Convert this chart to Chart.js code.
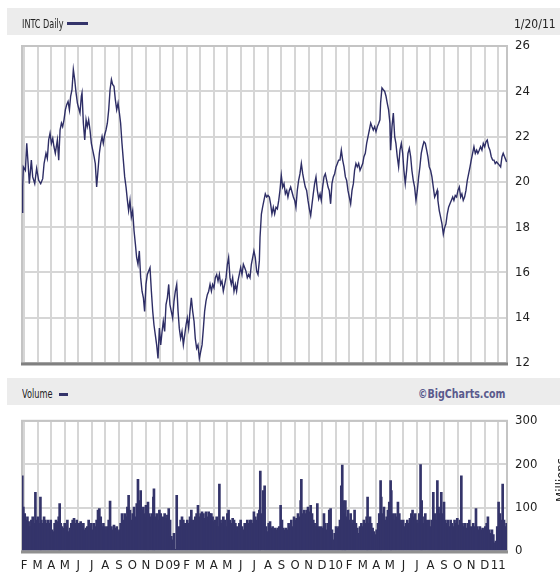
<!DOCTYPE html>
<html><head><meta charset="utf-8">
<script src="https://cdn.jsdelivr.net/npm/chart.js@4.4.1/dist/chart.umd.min.js"></script>
<style>
html,body{margin:0;padding:0;background:#fff;width:560px;height:572px;overflow:hidden;}
body{position:relative;font-family:"DejaVu Sans Condensed","DejaVu Sans",sans-serif;font-stretch:condensed;color:#222;}
.band{position:absolute;left:7px;width:553px;height:27px;background:#ececec;z-index:0;}
.txt{position:absolute;font-size:12px;line-height:15px;white-space:nowrap;z-index:2;transform-origin:0 50%;}
.sw{position:absolute;height:3px;background:#34346a;z-index:2;}
canvas{position:absolute;left:0;z-index:1;}
#millions{position:absolute;left:531px;top:473px;width:60px;height:14px;line-height:14px;font-size:13px;text-align:center;transform:rotate(-90deg);transform-origin:30px 7px;z-index:2;}
</style></head><body>
<div class="band" style="top:8px"></div>
<div class="txt" style="left:22px;top:17px;transform:scaleX(0.75)">INTC Daily</div>
<div class="sw" style="left:67px;top:22px;width:21px"></div>
<div class="txt" style="left:514px;top:17px">1/20/11</div>
<div class="band" style="top:378px"></div>
<div class="txt" style="left:22px;top:387px;transform:scaleX(0.76)">Volume</div>
<div class="sw" style="left:59px;top:393px;width:9px"></div>
<div class="txt" style="left:418px;top:387px;font-weight:bold;color:#5a5a8c;transform:scaleX(0.88)">©BigCharts.com</div>
<div id="millions">Millions</div>
<canvas id="pc" width="560" height="380" style="top:0"></canvas>
<canvas id="vc" width="560" height="167" style="top:405px"></canvas>
<script>
// x values: months since Jan 1 2008 (1 = Feb 2008, 12 = Jan 2009, 36 = Jan 2011)
const xTickLabels = ['F','M','A','M','J','J','A','S','O','N','D','09','F','M','A','M','J','J','A','S','O','N','D','10','F','M','A','M','J','J','A','S','O','N','D','11'];
const priceMonths = [0.85,0.90,0.95,1.10,1.20,1.30,1.39,1.54,1.64,1.79,1.93,2.08,2.23,2.38,2.48,2.62,2.72,2.82,2.92,3.02,3.12,3.21,3.31,3.46,3.56,3.66,3.76,3.85,3.95,4.05,4.15,4.25,4.35,4.44,4.54,4.64,4.74,4.84,4.94,5.03,5.13,5.23,5.28,5.38,5.48,5.58,5.67,5.77,5.87,5.97,6.07,6.17,6.26,6.36,6.46,6.56,6.66,6.76,6.85,6.95,7.05,7.15,7.25,7.35,7.45,7.54,7.64,7.74,7.84,7.94,8.04,8.13,8.23,8.33,8.43,8.53,8.63,8.72,8.82,8.92,9.02,9.12,9.22,9.31,
9.41,9.51,9.61,9.71,9.81,9.90,10.00,10.10,10.20,10.30,10.40,10.50,10.59,10.69,10.79,10.89,10.99,11.09,11.19,11.28,11.38,11.48,11.58,11.68,11.77,11.87,11.97,12.07,12.17,12.27,12.37,12.46,12.56,12.66,12.76,12.86,12.96,13.05,13.15,13.25,13.35,13.45,13.55,13.64,13.74,13.84,13.94,14.04,14.14,14.24,14.33,14.43,14.53,14.63,14.73,14.83,14.92,15.02,15.12,15.22,15.32,15.42,15.51,15.61,15.71,15.81,15.91,16.01,16.10,16.20,16.30,16.40,16.50,16.60,16.69,16.79,16.89,16.99,17.09,17.19,17.29,17.38,17.48,17.58,17.68,17.78,17.88,17.97,18.07,18.17,18.27,18.37,
18.42,18.52,18.61,18.71,18.81,18.91,19.01,19.11,19.20,19.30,19.40,19.50,19.60,19.70,19.80,19.89,19.99,20.09,20.19,20.29,20.39,20.48,20.58,20.68,20.78,20.88,20.98,21.07,21.17,21.27,21.37,21.47,21.57,21.66,21.76,21.86,21.96,22.06,22.16,22.26,22.35,22.45,22.55,22.65,22.75,22.85,22.94,23.04,23.14,23.24,23.34,23.44,23.53,23.63,23.73,23.83,23.93,24.03,24.13,24.22,24.32,24.42,24.52,24.62,24.72,24.81,24.91,25.01,25.11,25.21,25.31,25.40,25.50,25.60,25.70,25.80,25.90,26.00,26.09,26.19,26.29,26.39,26.49,26.59,26.68,26.78,26.88,26.98,27.08,27.18,27.27,
27.32,27.42,27.52,27.62,27.72,27.81,27.91,28.01,28.06,28.16,28.26,28.36,28.45,28.55,28.65,28.75,28.85,28.95,29.04,29.14,29.24,29.34,29.44,29.54,29.63,29.73,29.83,29.93,30.03,30.13,30.22,30.32,30.42,30.52,30.62,30.72,30.81,30.91,31.01,31.11,31.21,31.31,31.41,31.50,31.55,31.65,31.75,31.85,31.95,32.05,32.14,32.24,32.34,32.44,32.54,32.64,32.73,32.83,32.93,33.03,33.13,33.23,33.32,33.42,33.52,33.62,33.72,33.82,33.92,34.01,34.11,34.21,34.31,34.41,34.50,34.60,34.70,34.80,34.90,35.00,35.10,35.19,35.29,35.39,35.49,35.59,35.69,35.78,35.88,35.98,36.08,36.18,36.28,36.37,36.47,36.57,36.62];
const priceValues = [18.66,19.77,20.66,20.51,21.70,20.81,19.92,20.96,20.22,19.92,20.59,20.07,19.92,20.14,20.81,21.26,21.03,21.85,22.15,21.70,21.92,21.55,21.26,21.85,20.96,22.29,22.59,22.44,22.74,23.18,23.41,23.55,23.18,23.78,24.07,24.96,24.52,23.93,23.48,23.26,23.04,23.78,23.93,22.59,21.85,22.74,22.44,22.74,22.29,21.70,21.40,21.11,20.81,19.77,20.51,21.26,21.70,22.00,21.70,22.07,22.29,22.59,23.18,24.07,24.52,24.30,24.22,23.63,23.18,23.48,23.04,22.59,21.70,20.96,20.22,19.77,19.18,18.73,19.18,18.44,18.73,17.84,17.25,16.66,
16.36,16.95,15.77,15.17,14.88,14.28,15.47,15.91,16.06,16.21,15.17,14.28,13.69,13.24,12.80,12.20,13.54,12.80,13.39,13.84,13.39,14.58,14.88,15.47,14.58,14.28,13.99,14.73,15.17,15.47,14.28,13.54,13.09,13.39,12.80,13.24,13.69,13.99,13.54,14.28,14.88,14.28,13.84,13.09,12.65,12.80,12.20,12.50,12.80,13.54,14.28,14.73,15.02,15.17,15.47,15.17,15.47,15.32,15.77,15.91,15.62,15.91,15.47,15.62,15.17,15.47,15.77,16.36,16.66,15.77,15.47,15.77,15.17,15.47,15.17,15.62,15.91,16.21,15.91,16.36,16.21,16.06,15.77,15.91,15.77,16.36,16.66,16.95,16.66,16.06,15.91,16.51,
17.55,18.58,18.88,19.18,19.47,19.33,19.40,19.33,19.03,18.58,18.88,18.58,18.88,18.81,19.18,19.62,20.29,19.77,19.92,19.47,19.62,19.33,19.62,19.77,19.55,19.33,19.18,18.88,19.62,20.07,20.36,20.81,20.36,20.07,19.77,19.62,19.18,18.81,18.51,19.03,19.47,19.92,20.22,19.62,19.25,19.47,19.18,19.77,20.22,20.36,20.07,19.77,19.62,19.03,19.92,20.22,20.36,20.66,20.81,20.96,20.96,21.40,20.96,20.66,20.22,20.07,19.62,19.33,19.03,19.62,19.92,20.51,20.81,20.66,20.81,20.51,20.66,20.81,21.11,21.26,21.70,22.00,22.29,22.59,22.44,22.29,22.44,22.22,22.44,22.59,22.74,
23.48,24.15,24.07,24.00,23.78,23.48,23.18,22.59,21.40,22.44,23.04,22.00,21.70,21.11,20.66,21.40,21.70,21.26,20.51,19.92,20.51,21.26,21.48,21.11,20.51,20.07,19.77,19.18,19.62,20.22,20.66,21.26,21.55,21.77,21.70,21.40,21.11,20.66,20.51,20.22,19.77,19.33,19.47,19.62,19.18,18.73,18.44,18.14,17.69,17.99,18.14,18.58,18.88,19.03,19.18,19.33,19.18,19.40,19.33,19.62,19.77,19.33,19.47,19.18,19.33,19.62,20.07,20.36,20.66,20.96,21.26,21.55,21.26,21.40,21.26,21.40,21.55,21.40,21.70,21.55,21.77,21.85,21.55,21.40,21.11,20.96,20.96,20.81,20.88,20.81,20.74,20.66,21.11,21.26,21.11,20.96,20.88];
const volumeMonths = [0.87,0.95,1.05,1.15,1.25,1.34,1.44,1.54,1.64,1.74,1.84,1.94,2.03,2.13,2.21,2.28,2.38,2.48,2.57,2.67,2.77,2.87,2.97,3.07,3.17,3.26,3.36,3.46,3.56,3.63,3.71,3.80,3.90,4.00,4.10,4.20,4.30,4.40,4.49,4.59,4.69,4.79,4.89,4.99,5.08,5.18,5.28,5.38,5.48,5.58,5.67,5.77,5.87,5.97,6.07,6.17,6.26,6.36,6.46,6.56,6.66,6.76,6.86,6.95,7.05,7.15,7.25,7.35,7.45,7.54,7.64,7.74,7.84,7.94,8.04,8.13,8.23,8.33,8.43,8.53,8.63,8.72,8.82,8.92,9.02,9.12,9.22,9.32,9.41,9.51,9.61,9.71,9.81,9.91,10.00,10.10,10.15,10.25,10.35,10.45,10.55,10.59,10.69,10.79,10.89,10.99,11.09,11.18,11.28,11.38,11.48,11.58,11.68,11.78,11.87,11.97,12.07,12.17,12.27,12.37,12.46,12.56,12.66,12.76,12.86,12.96,13.05,13.15,13.25,13.35,13.45,13.55,13.64,13.74,13.84,13.94,14.04,14.14,14.24,14.33,14.43,14.53,14.63,14.73,14.83,14.92,15.02,15.12,15.22,15.32,15.42,15.51,15.61,15.71,15.81,15.91,16.01,16.10,16.20,16.30,16.40,16.50,16.60,16.70,16.79,16.89,16.99,17.09,17.19,17.29,17.38,17.48,17.58,17.68,17.78,17.88,17.97,18.07,18.17,18.27,18.37,18.44,18.52,18.66,18.76,18.86,18.96,19.06,19.16,19.25,19.35,19.45,19.55,19.65,19.75,19.84,19.94,20.04,20.14,20.24,20.34,20.44,20.53,20.63,20.73,20.83,20.93,21.03,21.12,21.22,21.32,21.42,21.47,21.57,21.67,21.76,21.86,21.96,22.06,22.16,22.26,22.35,22.45,22.55,22.65,22.75,22.85,22.94,23.04,23.14,23.24,23.34,23.44,23.53,23.63,23.73,23.83,23.93,24.03,24.13,24.22,24.32,24.42,24.49,24.57,24.67,24.72,24.81,24.91,25.01,25.11,25.21,25.31,25.40,25.50,25.60,25.70,25.80,25.90,25.99,26.09,26.19,26.29,26.36,26.44,26.54,26.63,26.73,26.83,26.93,27.03,27.13,27.22,27.32,27.37,27.47,27.57,27.67,27.77,27.86,27.96,28.06,28.11,28.21,28.31,28.41,28.50,28.60,28.70,28.80,28.90,28.99,29.09,29.19,29.29,29.39,29.49,29.59,29.68,29.78,29.88,29.98,30.08,30.18,30.27,30.35,30.42,30.52,30.62,30.72,30.82,30.91,31.01,31.11,31.21,31.31,31.41,31.51,31.60,31.70,31.80,31.90,32.00,32.10,32.19,32.29,32.39,32.49,32.59,32.69,32.78,32.88,32.98,33.08,33.18,33.28,33.37,33.47,33.57,33.67,33.77,33.87,33.97,34.06,34.16,34.26,34.36,34.46,34.56,34.65,34.75,34.85,34.95,35.05,35.15,35.24,35.34,35.44,35.54,35.64,35.74,35.83,35.93,36.03,36.13,36.23,36.33,36.43,36.52,36.62];
const volumeValues = [173,101,86,71,79,68,56,71,79,64,135,71,79,64,124,71,64,79,71,64,71,64,71,49,45,64,71,68,79,109,64,56,53,64,56,71,45,53,64,71,75,64,71,53,64,68,56,64,49,53,56,71,56,64,49,64,56,71,94,98,79,56,64,56,49,56,71,115,56,49,60,53,56,45,49,64,86,71,86,79,101,128,94,71,86,101,79,109,165,116,139,94,101,86,105,79,113,86,79,86,124,143,79,86,71,94,86,71,79,86,75,83,98,71,34,26,41,4,128,49,56,71,79,71,64,56,71,64,79,94,71,64,79,86,105,79,86,90,86,75,90,79,90,86,86,79,68,71,79,56,154,71,64,79,71,56,86,94,71,64,75,71,64,56,45,64,71,56,49,64,56,71,64,71,71,64,90,79,71,86,94,184,86,139,150,56,45,64,68,53,56,49,53,49,53,56,105,71,53,49,53,49,64,56,71,56,79,71,75,86,79,116,165,86,94,86,94,101,90,105,86,71,64,56,109,56,49,56,53,86,64,49,64,94,98,49,26,41,56,53,56,71,150,198,116,86,116,79,94,71,86,64,71,94,64,53,41,56,64,56,71,64,79,124,64,79,64,53,45,38,49,64,86,162,124,86,101,71,79,94,113,162,139,86,71,86,79,113,86,71,64,71,56,64,71,64,75,86,94,79,86,71,64,86,199,116,79,64,86,71,64,71,56,71,135,86,71,162,101,86,135,86,113,71,64,71,56,71,64,56,71,64,75,60,71,173,64,56,64,53,64,71,56,49,64,56,98,56,49,56,49,53,49,56,64,79,49,41,49,38,19,23,56,113,86,71,154,71,56,64];

const X_MIN = 0.85, X_MAX = 36.65;
const monthTicks = xTickLabels.map((_, i) => i + 1);
const FONT = '"DejaVu Sans Condensed","DejaVu Sans",sans-serif';
const GRID = '#d6d6d6';

function frame(bottomColor){
  return {id:'frame', beforeDatasetsDraw(chart){
    const {ctx, chartArea:a} = chart;
    ctx.save();
    ctx.strokeStyle = '#c4c4c4'; ctx.lineWidth = 2;
    ctx.strokeRect(a.left, a.top, a.right - a.left, a.bottom - a.top);
    ctx.restore();
  }, afterDatasetsDraw(chart){
    const {ctx, chartArea:a} = chart;
    ctx.save();
    ctx.strokeStyle = bottomColor; ctx.lineWidth = 3;
    ctx.beginPath(); ctx.moveTo(a.left - 1, a.bottom + 1); ctx.lineTo(a.right + 1, a.bottom + 1); ctx.stroke();
    ctx.restore();
  }};
}

function xScale(showLabels){
  return {
    type:'linear', min:X_MIN, max:X_MAX, offset:false,
    afterBuildTicks: s => { s.ticks = monthTicks.map(v => ({value:v})); },
    ticks:{display:showLabels, autoSkip:false, maxRotation:0, padding:7, color:'#222',
      font:{family:FONT, size:13}, callback:(v) => xTickLabels[v - 1]},
    grid:{color:GRID, lineWidth:2, drawTicks:false, offset:false},
    border:{display:false},
    afterFit: s => { s.height = showLabels ? 21 : 0; }
  };
}
function yScale(min, max, step){
  return {
    position:'right', min, max,
    ticks:{stepSize:step, padding:8, color:'#222', font:{family:FONT, size:13}},
    grid:{color:GRID, lineWidth:2, drawTicks:false},
    border:{display:false},
    afterFit: s => { s.width = 53; }
  };
}

new Chart(document.getElementById('pc'), {
  type:'line',
  data:{datasets:[{
    data: priceMonths.map((m, i) => ({x:m, y:priceValues[i]})),
    borderColor:'#2e2e66', borderWidth:1.4, pointRadius:0, tension:0, fill:false
  }]},
  options:{
    responsive:false, animation:false, events:[],
    layout:{padding:{left:22, top:46, bottom:17, right:0}},
    plugins:{legend:{display:false}, tooltip:{enabled:false}},
    scales:{ x:xScale(false), y:yScale(12, 26, 2) }
  },
  plugins:[frame('#808080')]
});

new Chart(document.getElementById('vc'), {
  type:'bar',
  data:{datasets:[{
    data: volumeMonths.map((m, i) => ({x:m, y:volumeValues[i]})),
    backgroundColor:'#34346a', borderWidth:0, barThickness:2, grouped:false
  }]},
  options:{
    responsive:false, animation:false, events:[],
    layout:{padding:{left:22, top:12, bottom:0, right:0}},
    plugins:{legend:{display:false}, tooltip:{enabled:false}},
    scales:{ x:xScale(true), y:yScale(0, 300, 100) }
  },
  plugins:[frame('#909090')]
});
</script>
</body></html>
